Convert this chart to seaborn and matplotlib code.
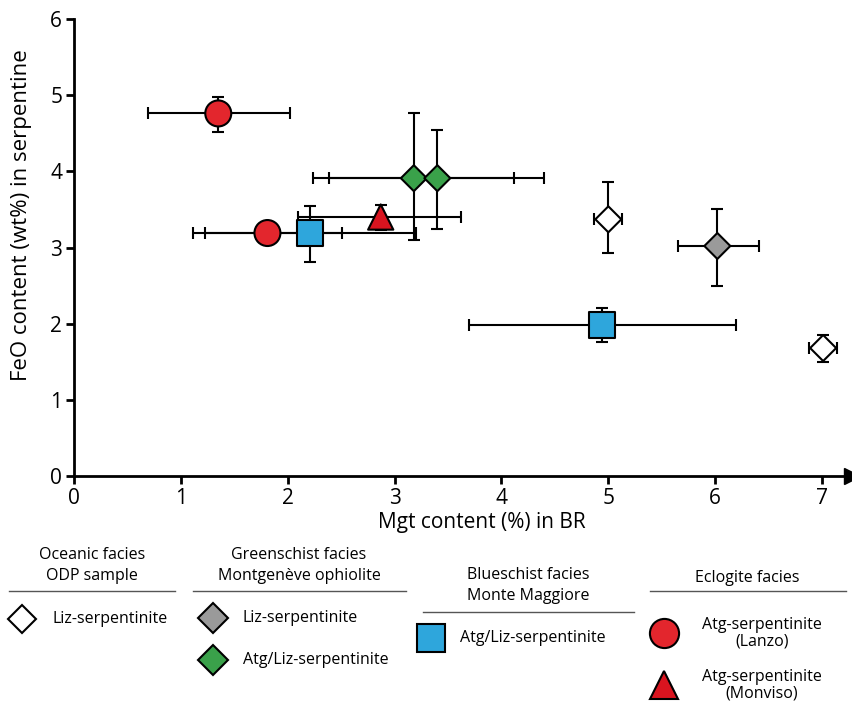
import numpy as np
import pandas as pd
import matplotlib
matplotlib.use("Agg")
import matplotlib.pyplot as plt
import seaborn as sns

# ---------------- data ----------------
grupo = ['ODP', 'ODP', 'Montgenevre_Liz', 'Montgenevre_AtgLiz', 'Montgenevre_AtgLiz',
         'MonteMaggiore', 'MonteMaggiore', 'Lanzo', 'Lanzo', 'Monviso']
mgt = [5.00, 7.01, 6.02, 3.18, 3.40, 2.21, 4.94, 1.35, 1.81, 2.87]
feo = [3.37, 1.68, 3.02, 3.91, 3.91, 3.19, 1.98, 4.76, 3.19, 3.40]
mgt_err_lo = [0.13, 0.13, 0.37, 0.94, 1.01, 0.98, 1.24, 0.66, 0.70, 0.77]
mgt_err_hi = [0.13, 0.13, 0.39, 0.94, 1.00, 0.99, 1.25, 0.67, 0.70, 0.75]
feo_err_lo = [0.44, 0.18, 0.53, 0.81, 0.67, 0.38, 0.22, 0.25, 0.02, 0.17]
feo_err_hi = [0.49, 0.17, 0.48, 0.85, 0.63, 0.35, 0.23, 0.21, 0.02, 0.16]

colores = {'ODP': 'white', 'Montgenevre_Liz': '#9a9a9a', 'Montgenevre_AtgLiz': '#3aa14a',
           'MonteMaggiore': '#2ea6dc', 'Lanzo': '#e3262d', 'Monviso': '#d9141f'}
marcadores = {'ODP': 'D', 'Montgenevre_Liz': 'D', 'Montgenevre_AtgLiz': 'D',
              'MonteMaggiore': 's', 'Lanzo': 'o', 'Monviso': '^'}
tamanos = {'ODP': 175, 'Montgenevre_Liz': 175, 'Montgenevre_AtgLiz': 175,
           'MonteMaggiore': 340, 'Lanzo': 350, 'Monviso': 330}

df = pd.DataFrame({'grupo': grupo, 'mgt': mgt, 'feo': feo})

fuente = 'Open Sans'
plt.rcParams['font.family'] = [fuente, 'DejaVu Sans']

fig = plt.figure(figsize=(8.53, 7.04), dpi=100)
ax = fig.add_axes([74 / 853, 228 / 704, 778 / 853, 457 / 704])

############ error bars + markers ############
ax.errorbar(mgt, feo, xerr=[mgt_err_lo, mgt_err_hi], yerr=[feo_err_lo, feo_err_hi],
            fmt='none', ecolor='black', elinewidth=1.5, capsize=4.5, capthick=1.5, zorder=2)
sns.scatterplot(data=df, x='mgt', y='feo', hue='grupo', style='grupo', size='grupo',
                palette=colores, markers=marcadores, sizes=tamanos,
                edgecolor='black', linewidth=1.5, legend=False, zorder=3, ax=ax)

ax.set_xlim(0, 7.28)
ax.set_ylim(0, 6)
ax.set_xticks(range(0, 8))
ax.set_yticks(range(0, 7))
ax.spines[['top', 'right']].set_visible(False)
for s in ['left', 'bottom']:
    ax.spines[s].set_linewidth(2)
ax.tick_params(width=2, length=5.5, labelsize=15, pad=3)
ax.plot(1, 0, '>k', markersize=11, transform=ax.transAxes, clip_on=False)
ax.set_xlabel('Mgt content (%) in BR', fontsize=15)
ax.set_ylabel('FeO content (wt%) in serpentine', fontsize=16)
ax.xaxis.set_label_coords(0.524, -0.078)
ax.yaxis.set_label_coords(-0.054, 0.571)

############ legend built by hand ############
lg = fig.add_axes([0, 0, 1, 1])
lg.set_xlim(0, 853)
lg.set_ylim(704, 0)
lg.axis('off')
fs = 11.5

def cabecera(x, ys, textos, x0, x1, yr):
    for y, t in zip(ys, textos):
        lg.text(x, y, t, ha='center', va='center', fontsize=fs)
    lg.plot([x0, x1], [yr, yr], color='#555555', lw=1)

cabecera(92, [555, 576], ['Oceanic facies', 'ODP sample'], 9, 175, 591)
cabecera(299, [555, 576], ['Greenschist facies', 'Montgenève ophiolite'], 193, 406, 591)
cabecera(528, [575, 596], ['Blueschist facies', 'Monte Maggiore'], 423, 634, 612)
cabecera(747, [578], ['Eclogite facies'], 650, 846, 591)

def fila(xm, ym, grupo_, ms, xt, textos, ha='left'):
    lg.plot(xm, ym, marker=marcadores[grupo_], ms=ms, mfc=colores[grupo_],
            mec='black', mew=1.5, ls='none')
    if ha == 'left':
        lg.text(xt, ym, textos[0], ha='left', va='center', fontsize=fs)
    else:
        for i, t in enumerate(textos):
            lg.text(xt, ym - 8 + 17 * i, t, ha='center', va='center', fontsize=fs)

fila(22, 619, 'ODP', 14, 53, ['Liz-serpentinite'])
fila(213, 618, 'Montgenevre_Liz', 15, 243, ['Liz-serpentinite'])
fila(213, 660, 'Montgenevre_AtgLiz', 15, 243, ['Atg/Liz-serpentinite'])
fila(431, 638, 'MonteMaggiore', 20, 460, ['Atg/Liz-serpentinite'])
fila(664, 633, 'Lanzo', 21, 762, ['Atg-serpentinite', '(Lanzo)'], ha='center')
fila(664, 685, 'Monviso', 20, 762, ['Atg-serpentinite', '(Monviso)'], ha='center')

plt.savefig('out.png', dpi=100)
